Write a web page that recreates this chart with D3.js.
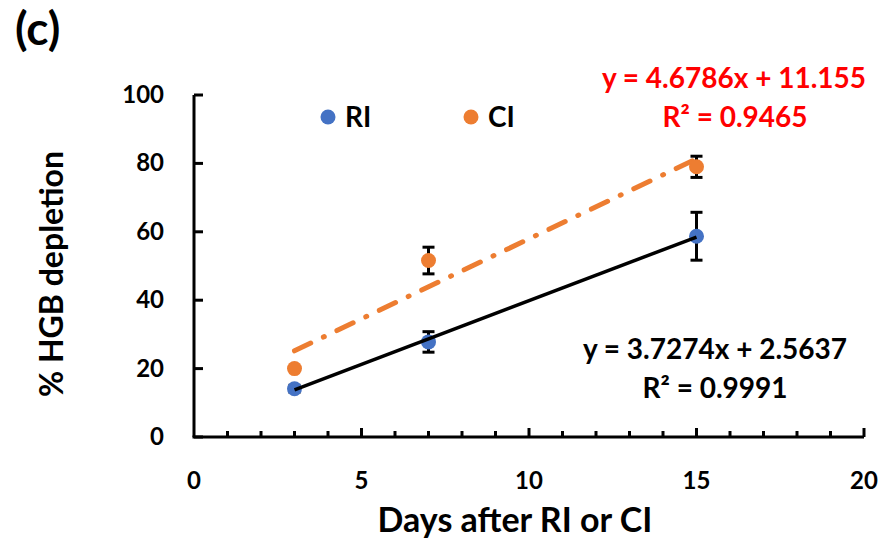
<!DOCTYPE html>
<html><head><meta charset="utf-8">
<script src="https://cdn.jsdelivr.net/npm/d3@7"></script>
<style>body{margin:0;background:#fff}svg{display:block}text{font-family:Lato,"Open Sans",sans-serif;font-weight:700}</style>
</head><body><svg id="c" width="882" height="545"></svg>
<script>
const days = [3, 7, 15];
const riValues = [14.1, 27.8, 58.7];
const riErrors = [1.0, 3.0, 7.0];
const ciValues = [20.0, 51.6, 79.0];
const ciErrors = [0.0, 3.9, 3.1];
const riFit = {slope: 3.7274, intercept: 2.5637, label: "y = 3.7274x + 2.5637", r2: "R² = 0.9991"};
const ciFit = {slope: 4.6786, intercept: 11.155, label: "y = 4.6786x + 11.155", r2: "R² = 0.9465"};
const xTicks = [0, 5, 10, 15, 20];
const yTicks = [0, 20, 40, 60, 80, 100];
const seriesNames = ["RI", "CI"];
const colors = {RI: "#4472C4", CI: "#ED7D31"};

const svg = d3.select("#c");
const x = d3.scaleLinear().domain([0, 20]).range([194, 864]);
const y = d3.scaleLinear().domain([0, 100]).range([437, 95]);

// x axis
const gx = svg.append("g").attr("transform", "translate(0,437)");
gx.append("line").attr("x1", x(0) - 1.5).attr("x2", x(20)).attr("stroke", "#000").attr("stroke-width", 3);
gx.selectAll("line.minor").data(d3.range(1, 21)).join("line").attr("class", "minor")
  .attr("x1", d => x(d)).attr("x2", d => x(d)).attr("y1", 0).attr("y2", d => d % 5 === 0 ? -9 : -6)
  .attr("stroke", "#000").attr("stroke-width", 3);
gx.selectAll("text").data(xTicks).join("text")
  .attr("x", d => x(d)).attr("y", 52).attr("text-anchor", "middle").attr("font-size", 24).text(d => d);

// y axis
const gy = svg.append("g").attr("transform", "translate(194,0)");
gy.append("line").attr("y1", y(0)).attr("y2", y(100)).attr("stroke", "#000").attr("stroke-width", 3);
gy.selectAll("line.t").data(yTicks).join("line").attr("class", "t")
  .attr("y1", d => y(d)).attr("y2", d => y(d)).attr("x1", 0).attr("x2", 9)
  .attr("stroke", "#000").attr("stroke-width", 3);
gy.selectAll("text").data(yTicks).join("text")
  .attr("x", -30).attr("y", d => y(d) + 8).attr("text-anchor", "end").attr("font-size", 24).text(d => d);

// labels
svg.append("text").attr("x", 15).attr("y", 45).attr("font-size", 46).text("(c)");
svg.append("text").attr("transform", "translate(63,274) rotate(-90)").attr("text-anchor", "middle")
  .attr("font-size", 32).text("% HGB depletion");
svg.append("text").attr("x", 515).attr("y", 532).attr("text-anchor", "middle").attr("font-size", 34).text("Days after RI or CI");

// trendlines
const fitLine = f => [[days[0], f.intercept + f.slope * days[0]], [days[2], f.intercept + f.slope * days[2]]];
const lineGen = d3.line().x(d => x(d[0])).y(d => y(d[1]));
svg.append("path").datum(fitLine(ciFit)).attr("d", lineGen)
  .attr("stroke", colors.CI).attr("stroke-width", 5).attr("fill", "none")
  .attr("stroke-linecap", "round").attr("stroke-dasharray", "18 14 1 14");

// points + error bars
function drawSeries(name, vals, errs) {
  const g = svg.append("g");
  days.forEach((d, i) => {
    if (errs[i] > 0) {
      const top = y(vals[i] + errs[i]), bot = y(vals[i] - errs[i]), cx = x(d);
      g.append("line").attr("x1", cx).attr("x2", cx).attr("y1", top).attr("y2", bot).attr("stroke", "#000").attr("stroke-width", 3);
      [top, bot].forEach(yy => g.append("line").attr("x1", cx - 6).attr("x2", cx + 6).attr("y1", yy).attr("y2", yy).attr("stroke", "#000").attr("stroke-width", 3));
    }
  });
  g.selectAll("circle").data(days).join("circle")
    .attr("cx", d => x(d)).attr("cy", (d, i) => y(vals[i])).attr("r", 7.5).attr("fill", colors[name]);
}
drawSeries("CI", ciValues, ciErrors);
drawSeries("RI", riValues, riErrors);
svg.append("path").datum(fitLine(riFit)).attr("d", lineGen)
  .attr("stroke", "#000").attr("stroke-width", 3.5).attr("fill", "none");

// legend
const legendX = [328, 471];
seriesNames.forEach((n, i) => {
  svg.append("circle").attr("cx", legendX[i]).attr("cy", 117).attr("r", 7.5).attr("fill", colors[n]);
  svg.append("text").attr("x", legendX[i] + 17).attr("y", 127).attr("font-size", 28).text(n);
});

// equations
svg.append("text").attr("x", 734).attr("y", 88).attr("text-anchor", "middle").attr("font-size", 28).attr("fill", "#FF0000").text(ciFit.label);
svg.append("text").attr("x", 735).attr("y", 127).attr("text-anchor", "middle").attr("font-size", 28).attr("fill", "#FF0000").text(ciFit.r2);
svg.append("text").attr("x", 715).attr("y", 359).attr("text-anchor", "middle").attr("font-size", 28).attr("fill", "#000").text(riFit.label);
svg.append("text").attr("x", 715).attr("y", 398).attr("text-anchor", "middle").attr("font-size", 28).attr("fill", "#000").text(riFit.r2);
</script></body></html>
